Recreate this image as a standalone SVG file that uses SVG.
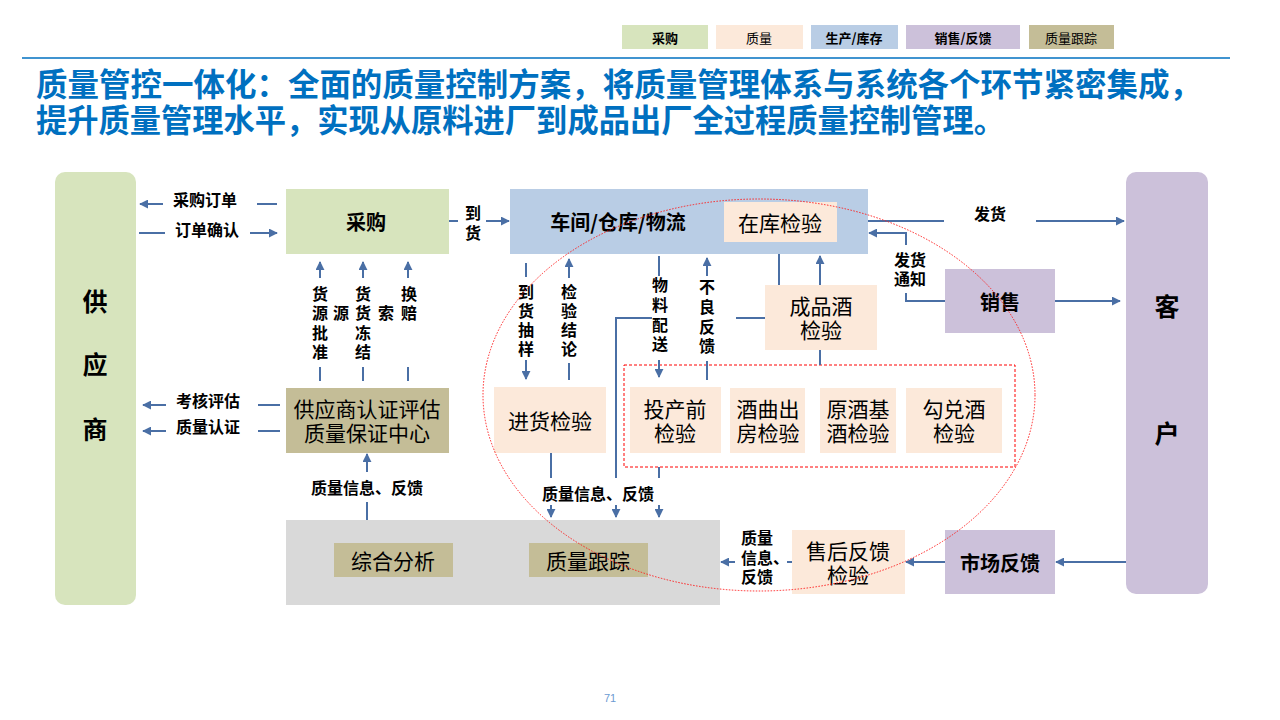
<svg xmlns="http://www.w3.org/2000/svg" width="1280" height="720" viewBox="0 0 1280 720">
<defs>
<marker id="ah" viewBox="0 0 10 10" refX="9" refY="5" markerWidth="9" markerHeight="9" markerUnits="userSpaceOnUse" orient="auto">
<path d="M0,0 L10,5 L0,10 z" fill="#4a6fa5"/>
</marker>
<style>
text{font-family:"Noto Sans CJK SC","Liberation Sans",sans-serif;text-anchor:middle;dominant-baseline:central;fill:#000}
.t{font-weight:bold;font-size:31.5px;fill:#0070c0;text-anchor:start}
.lg{font-size:13px}
.lgb{font-size:13px;font-weight:bold}
.big{font-size:25px;font-weight:bold}
.hb{font-size:20px;font-weight:bold}
.bx{font-size:21px}
.lb{font-size:16px;font-weight:bold}
.vl{font-size:16px;font-weight:bold}
.green{fill:#d7e4bd}
.peach{fill:#fce9da}
.blue{fill:#b9cde5}
.purple{fill:#ccc1da}
.khaki{fill:#c4bd97}
.gray{fill:#d9d9d9}
#connectors path{fill:none;stroke:#4a6fa5;stroke-width:2}
.arr{marker-end:url(#ah)}
</style>
</defs>
<rect width="1280" height="720" fill="#fff"/>

<g id="legend">
<rect class="green" x="622" y="25" width="86" height="24"/><text class="lgb" x="665" y="37">采购</text>
<rect class="peach" x="716" y="25" width="87" height="24"/><text class="lg" x="759" y="37">质量</text>
<rect class="blue" x="811" y="25" width="87" height="24"/><text class="lgb" x="854" y="37">生产/库存</text>
<rect class="purple" x="906" y="25" width="114" height="24"/><text class="lgb" x="963" y="37">销售/反馈</text>
<rect class="khaki" x="1029" y="25" width="85" height="24"/><text class="lg" x="1071" y="37">质量跟踪</text>
</g>
<line x1="22" y1="58" x2="1230" y2="58" stroke="#0070c0" stroke-width="1.5"/>

<g id="title">
<text class="t"><tspan x="36" y="82" textLength="1165" lengthAdjust="spacingAndGlyphs">质量管控一体化：全面的质量控制方案，将质量管理体系与系统各个环节紧密集成，</tspan><tspan x="36" y="118" textLength="969" lengthAdjust="spacingAndGlyphs">提升质量管理水平，实现从原料进厂到成品出厂全过程质量控制管理。</tspan></text>
</g>

<g id="supplier"><rect class="green" x="55" y="172" width="81" height="433" rx="10"/>
<text class="big"><tspan x="95" y="300">供</tspan><tspan x="95" y="363">应</tspan><tspan x="95" y="428">商</tspan></text></g>

<g id="customer"><rect class="purple" x="1126" y="172" width="82" height="422" rx="10"/>
<text class="big"><tspan x="1167" y="305">客</tspan><tspan x="1167" y="432">户</tspan></text></g>

<g id="purchase"><rect class="green" x="286" y="189" width="163" height="65"/><text class="hb" x="366" y="221">采购</text></g>

<g id="workshop"><rect class="blue" x="510" y="189" width="358" height="65"/><text class="hb" x="618" y="221">车间/仓库/物流</text></g>
<g id="instock"><rect class="peach" x="724" y="202" width="113" height="40"/><text class="bx" x="780" y="222">在库检验</text></g>

<g id="sales"><rect class="purple" x="945" y="269" width="110" height="64"/><text class="hb" x="1000" y="301">销售</text></g>

<g id="qa-center"><rect class="khaki" x="286" y="388" width="163" height="65"/>
<text class="bx"><tspan x="367" y="408">供应商认证评估</tspan><tspan x="367" y="432">质量保证中心</tspan></text></g>

<g id="tracking-area"><rect class="gray" x="286" y="520" width="434" height="85"/></g>
<g id="analysis"><rect class="khaki" x="334" y="543" width="119" height="34"/><text class="bx" x="393" y="560">综合分析</text></g>
<g id="tracking"><rect class="khaki" x="529" y="543" width="119" height="34"/><text class="bx" x="588" y="560">质量跟踪</text></g>

<g id="incoming"><rect class="peach" x="494" y="387" width="112" height="66"/><text class="bx" x="550" y="420">进货检验</text></g>

<g id="preprod"><rect class="peach" x="630" y="387" width="91" height="66"/><text class="bx"><tspan x="675" y="408">投产前</tspan><tspan x="675" y="432">检验</tspan></text></g>
<g id="qu"><rect class="peach" x="730" y="388" width="75" height="65"/><text class="bx"><tspan x="768" y="408">酒曲出</tspan><tspan x="768" y="432">房检验</tspan></text></g>
<g id="base"><rect class="peach" x="820" y="388" width="76" height="65"/><text class="bx"><tspan x="858" y="408">原酒基</tspan><tspan x="858" y="432">酒检验</tspan></text></g>
<g id="blend"><rect class="peach" x="906" y="388" width="96" height="65"/><text class="bx"><tspan x="954" y="408">勾兑酒</tspan><tspan x="954" y="432">检验</tspan></text></g>
<rect x="624" y="365" width="391" height="102" fill="none" stroke="#ff0000" stroke-width="1" stroke-dasharray="3 2"/>

<g id="finished"><rect class="peach" x="765" y="285" width="112" height="65"/><text class="bx"><tspan x="821" y="305">成品酒</tspan><tspan x="821" y="329">检验</tspan></text></g>

<g id="aftersale"><rect class="peach" x="792" y="530" width="113" height="64"/><text class="bx"><tspan x="848" y="550">售后反馈</tspan><tspan x="848" y="574">检验</tspan></text></g>

<g id="market"><rect class="purple" x="945" y="530" width="110" height="64"/><text class="hb" x="1000" y="562">市场反馈</text></g>

<g id="connectors">
<path d="M277,204 H257"/><path class="arr" d="M163,204 H140"/>
<path d="M139,233 H165"/><path class="arr" d="M250,233 H277"/>
<path d="M280,405 H258"/><path class="arr" d="M166,405 H143"/>
<path d="M280,431 H258"/><path class="arr" d="M166,431 H143"/>
<path d="M320,381 V367"/><path class="arr" d="M320,278 V262"/>
<path d="M363,381 V367"/><path class="arr" d="M363,278 V262"/>
<path d="M408,381 V367"/><path class="arr" d="M408,278 V262"/>
<path d="M449,221 H458"/><path class="arr" d="M486,221 H509"/>
<path d="M526,263 V277"/><path class="arr" d="M526,360 V379"/>
<path class="arr" d="M569,278 V259"/><path d="M569,363 V380"/>
<path d="M659,256 V276"/><path class="arr" d="M659,360 V377"/>
<path class="arr" d="M707,276 V258"/><path d="M707,361 V380"/>
<path d="M779,254 V285"/>
<path class="arr" d="M820,285 V256"/>
<path d="M820,350 V365"/>
<path d="M765,318 H736"/><path d="M652,318 H616 V478"/><path class="arr" d="M616,505 V517"/>
<path d="M551,453 V478"/><path class="arr" d="M551,505 V517"/>
<path d="M659,467 V478"/><path class="arr" d="M659,505 V517"/>
<path d="M868,221 H944"/><path class="arr" d="M1036,221 H1124"/>
<path d="M945,301 H906 V293"/><path class="arr" d="M906,245 V233 H869"/>
<path class="arr" d="M1055,301 H1120"/>
<path class="arr" d="M1126,562 H1056"/>
<path class="arr" d="M945,562 H906"/>
<path d="M792,562 H787"/><path class="arr" d="M735,562 H721"/>
<path d="M367,520 V502"/><path class="arr" d="M367,472 V454"/>
</g>

<g id="labels">
<text class="lb" x="205" y="199">采购订单</text>
<text class="lb" x="207" y="229">订单确认</text>
<text class="lb" x="208" y="400">考核评估</text>
<text class="lb" x="208" y="426">质量认证</text>
<text class="vl"><tspan x="320" y="293">货</tspan><tspan x="320" y="312">源</tspan><tspan x="320" y="332">批</tspan><tspan x="320" y="351">准</tspan></text>
<text class="vl" x="341" y="312">源</text>
<text class="vl"><tspan x="363" y="293">货</tspan><tspan x="363" y="312">货</tspan><tspan x="363" y="332">冻</tspan><tspan x="363" y="351">结</tspan></text>
<text class="vl" x="386" y="312">索</text>
<text class="vl"><tspan x="409" y="293">换</tspan><tspan x="409" y="312">赔</tspan></text>
<text class="lb"><tspan x="473" y="212">到</tspan><tspan x="473" y="232">货</tspan></text>
<text class="vl"><tspan x="526" y="291">到</tspan><tspan x="526" y="310">货</tspan><tspan x="526" y="329">抽</tspan><tspan x="526" y="348">样</tspan></text>
<text class="vl"><tspan x="569" y="291">检</tspan><tspan x="569" y="310">验</tspan><tspan x="569" y="329">结</tspan><tspan x="569" y="348">论</tspan></text>
<text class="vl"><tspan x="660" y="284">物</tspan><tspan x="660" y="304">料</tspan><tspan x="660" y="324">配</tspan><tspan x="660" y="343">送</tspan></text>
<text class="vl"><tspan x="707" y="286">不</tspan><tspan x="707" y="306">良</tspan><tspan x="707" y="326">反</tspan><tspan x="707" y="345">馈</tspan></text>
<text class="lb" x="598" y="493">质量信息、反馈</text>
<text class="lb" x="367" y="487">质量信息、反馈</text>
<text class="lb" x="990" y="213">发货</text>
<text class="lb"><tspan x="910" y="259">发货</tspan><tspan x="910" y="278">通知</tspan></text>
<text class="lb" style="text-anchor:start"><tspan x="741" y="537">质量</tspan><tspan x="741" y="557">信息、</tspan><tspan x="741" y="576">反馈</tspan></text>
</g>

<ellipse cx="759" cy="395" rx="276" ry="196" fill="none" stroke="#ff2020" stroke-width="1" stroke-dasharray="1.5 1.5"/>

<text x="610" y="698" style="font-family:'Liberation Sans',sans-serif;font-size:11px;fill:#6c9bd2">71</text>
</svg>
